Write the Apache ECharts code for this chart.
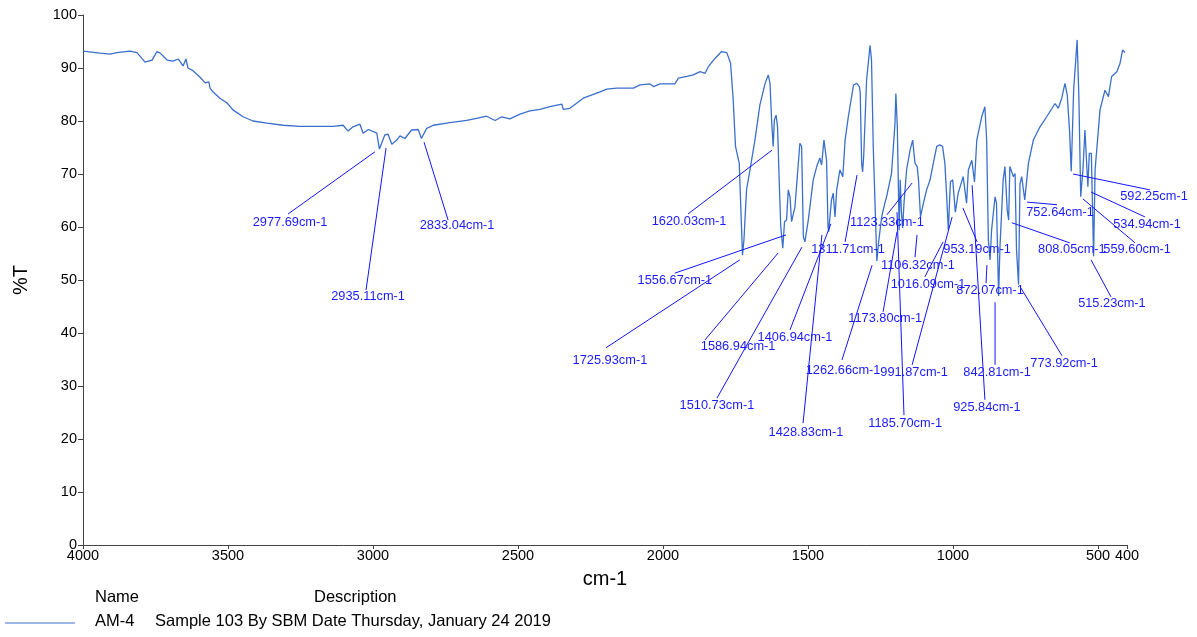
<!DOCTYPE html>
<html>
<head>
<meta charset="utf-8">
<script src="https://cdn.jsdelivr.net/npm/echarts@6/dist/echarts.min.js"></script>
<style>
html,body{margin:0;padding:0;background:#fff;}
#chart{width:1197px;height:637px;}
</style>
</head>
<body>
<div id="chart"></div>
<script>
// Spectrum: wavenumber (cm-1) and transmittance (%T)
var wavenumbers = [4000,3941,3907,3883,3838,3814,3786,3762,3745,3734,3710,3690,3672,3655,3645,3638,3621,3597,3579,3566,3562,3552,3528,3503,3483,3448,3414,3366,3310,3252,3138,3103,3086,3069,3045,3034,3016,2987,2977.69,2959,2948,2935.11,2918,2907,2890,2867,2844,2833.04,2815,2792,2735,2677,2643,2608,2579,2556,2528,2493,2459,2424,2390,2349,2344,2321,2275,2217,2194,2160,2102,2079,2045,2033,2010,1959,1947,1918,1896,1872,1855,1844,1821,1798,1780,1775,1767,1758,1750,1744,1737,1725.93,1721,1712,1700,1683,1666,1648,1637,1631,1625,1620.03,1616,1610,1605,1599,1594,1586.94,1581,1574,1568,1562,1556.67,1545,1528,1522,1516,1510.73,1499,1482,1470,1459,1453,1445,1436,1431,1428.83,1419,1413,1406.94,1401,1390,1380,1372,1361,1343,1332,1323,1320,1315,1311.71,1308,1298,1286,1281,1275,1262.66,1257,1246,1235,1229,1212,1200,1197,1192,1185.70,1182,1178,1173.80,1169,1160,1148,1139,1131,1123.33,1119,1112,1106.32,1102,1091,1079,1068,1056,1045,1036,1028,1022,1016.09,1009,1001,991.87,982,965,953.19,947,935,925.84,918,901,890,884,878,872.07,867,855,850,842.81,838,827,821,813,808.05,804,792,786,781,773.92,769,763,752.64,740,723,700,677,648,637,625,614,606,598,592.25,584,572,566,559.60,552,545,534.94,530,523,515.23,510,493,476,464,453,435,424,415,407];
var transmittance = [93.2,92.8,92.6,92.9,93.2,92.9,91.1,91.5,93.1,92.8,91.5,91.3,91.7,90.4,91.7,90.0,89.5,88.3,87.2,87.4,86.2,85.5,84.3,83.4,82.1,80.8,80.0,79.6,79.2,79.0,79.0,79.2,78.1,78.9,79.4,77.7,78.4,77.7,74.7,77.4,77.5,75.6,76.4,77.2,76.7,78.3,78.4,76.7,78.6,79.2,79.7,80.1,80.5,80.9,80.1,80.8,80.4,81.3,81.9,82.2,82.7,83.2,82.2,82.4,84.3,85.5,86.0,86.2,86.2,86.8,87.0,86.5,87.0,87.0,88.1,88.4,88.7,89.3,89.0,90.2,91.8,93.1,92.9,92.6,90.9,84.0,75.2,75.0,72.0,54.7,57.5,67.0,70.8,76.4,83.0,87.1,88.7,87.1,79.6,75.2,80.2,81.1,78.9,68.2,60.1,56.0,61.0,61.3,67.0,65.7,61.0,63.8,75.8,75.2,58.2,57.2,61.3,68.9,71.4,73.0,71.7,76.4,72.6,60.1,59.1,65.1,66.4,61.9,67.0,70.8,69.5,76.4,80.8,86.8,87.1,86.5,85.5,72.0,70.4,73.3,87.7,94.3,91.5,75.2,53.6,56.9,61.9,64.5,65.7,70.1,79.6,85.2,78.9,59.4,68.9,63.0,59.8,64.5,70.8,74.5,76.4,72.0,71.4,68.9,61.9,61.7,64.5,67.0,68.9,72.0,75.2,75.5,75.2,72.0,66.0,59.4,68.5,68.9,62.8,66.4,69.5,64.5,70.8,72.6,68.5,76.4,80.8,82.7,76.4,57.5,53.8,59.4,65.7,64.5,47.0,56.3,68.9,71.4,63.2,61.3,71.4,69.5,70.1,55.7,49.1,68.2,69.5,65.1,72.0,76.4,78.9,80.8,83.3,82.4,84.3,87.1,84.9,78.0,70.5,85.8,95.3,84.6,65.7,70.8,78.3,67.6,73.9,73.9,54.5,70.8,82.1,85.8,84.6,88.4,89.3,90.9,93.4,92.9];

// Tick labels
var xTicks = [4000,3500,3000,2500,2000,1500,1000,500,400];

// Peak annotations: text, line start [wn,%T], line end [wn,%T], label centre [wn,%T]
var peakLabels = ['2977.69cm-1','2935.11cm-1','2833.04cm-1','1620.03cm-1','1556.67cm-1','1725.93cm-1','1586.94cm-1','1510.73cm-1','1406.94cm-1','1428.83cm-1','1311.71cm-1','1262.66cm-1','1173.80cm-1','1123.33cm-1','1185.70cm-1','1106.32cm-1','1016.09cm-1','991.87cm-1','953.19cm-1','925.84cm-1','872.07cm-1','842.81cm-1','773.92cm-1','808.05cm-1','752.64cm-1','592.25cm-1','534.94cm-1','559.60cm-1','515.23cm-1'];
var peakStart = [[2993,74.2],[2955,74.9],[2824,76.0],[1624,74.5],[1576,58.5],[1735,53.8],[1603,55.1],[1521,56.2],[1421,60.6],[1452,58.5],[1331,69.8],[1279,52.8],[1193,59.1],[1141,68.3],[1193,62.8],[1124,58.5],[1034,57.2],[1003,61.9],[966,63.6],[934,67.9],[883,52.8],[855,45.8],[766,48.5],[797,60.8],[745,64.7],[586,70.0],[524,66.6],[552,65.3],[524,53.8]];
var peakEnd = [[3293,62.45],[3024,48.1],[2741,61.3],[1914,62.45],[1959,51.3],[2197,37.2],[1855,38.7],[1814,27.7],[1562,40.6],[1517,23.0],[1372,57.2],[1383,34.9],[1241,44.0],[1228,62.3],[1169,24.5],[1131,54.3],[1097,50.6],[1141,34.0],[917,57.2],[890,27.4],[886,49.4],[855,34.0],[624,35.7],[597,57.0],[641,64.2],[321,67.0],[338,61.9],[372,57.0],[455,46.8]];
var peakText = [[3286,60.9],[3017,46.8],[2710,60.2],[1910,61.1],[1959,50.0],[2183,34.9],[1741,37.4],[1814,26.4],[1545,39.2],[1507,21.3],[1362,55.8],[1379,33.0],[1234,42.8],[1228,60.9],[1165,23.0],[1121,52.8],[1086,49.1],[1134,32.5],[917,55.7],[883,26.0],[872,48.1],[848,32.6],[617,34.2],[590,55.8],[631,62.8],[307,65.7],[331,60.4],[365,55.7],[452,45.5]];

var seriesName = 'AM-4';
var seriesDesc = 'Sample 103 By SBM Date Thursday, January 24 2019';

var spectrum = wavenumbers.map(function(w, i){ return [w, transmittance[i]]; });
var annot = peakLabels.map(function(t, i){
  return [peakStart[i][0], peakStart[i][1], peakEnd[i][0], peakEnd[i][1], peakText[i][0], peakText[i][1]];
});

var FONT = '"Liberation Sans", Arial, sans-serif';
var chart = echarts.init(document.getElementById('chart'), null, {renderer:'canvas'});
chart.setOption({
  animation: false,
  backgroundColor: '#ffffff',
  grid: {left: 83, right: 70, top: 15, bottom: 92},
  xAxis: {
    type: 'value', inverse: true, min: 400, max: 4000,
    name: 'cm-1', nameLocation: 'middle', nameGap: 24,
    nameTextStyle: {fontFamily: FONT, fontSize: 20, color: '#000'},
    axisLine: {show: true, lineStyle: {color: '#444', width: 1}},
    axisTick: {show: true, length: 4, customValues: xTicks, lineStyle: {color: '#444'}},
    axisLabel: {customValues: xTicks, fontFamily: FONT, fontSize: 14.5, color: '#000', margin: 3,
      formatter: function(v){ return String(v); }},
    splitLine: {show: false}
  },
  yAxis: {
    type: 'value', min: 0, max: 100, interval: 10,
    name: '%T', nameLocation: 'middle', nameGap: 52,
    nameTextStyle: {fontFamily: FONT, fontSize: 20, color: '#000'},
    axisLine: {show: true, lineStyle: {color: '#444', width: 1}},
    axisTick: {show: true, length: 5, lineStyle: {color: '#444'}},
    axisLabel: {fontFamily: FONT, fontSize: 14.5, color: '#000', margin: 6},
    splitLine: {show: false}
  },
  series: [
    {
      type: 'line', name: seriesName, data: spectrum, showSymbol: false, symbol: 'none',
      lineStyle: {color: '#3a6fcc', width: 1.3}, z: 3
    },
    {
      type: 'custom', data: annot, clip: false, z: 4,
      renderItem: function(params, api){
        var s = api.coord([api.value(0), api.value(1)]);
        var e = api.coord([api.value(2), api.value(3)]);
        var l = api.coord([api.value(4), api.value(5)]);
        return {type: 'group', children: [
          {type: 'line', shape: {x1: s[0], y1: s[1], x2: e[0], y2: e[1]}, style: {stroke: '#1414ff', lineWidth: 1}},
          {type: 'text', x: l[0], y: l[1], style: {text: peakLabels[params.dataIndex], fill: '#1a1aff', font: '12.8px ' + FONT, align: 'center', verticalAlign: 'middle'}}
        ]};
      }
    }
  ],
  graphic: [
    {type: 'text', left: 95, top: 589, style: {text: 'Name', font: '16.5px ' + FONT, fill: '#000'}},
    {type: 'text', left: 314, top: 589, style: {text: 'Description', font: '16.5px ' + FONT, fill: '#000'}},
    {type: 'line', shape: {x1: 5, y1: 623, x2: 75, y2: 623}, style: {stroke: '#3a6fcc', lineWidth: 1.2}},
    {type: 'text', left: 95, top: 613, style: {text: seriesName, font: '16.5px ' + FONT, fill: '#000'}},
    {type: 'text', left: 155, top: 613, style: {text: seriesDesc, font: '16.5px ' + FONT, fill: '#000'}}
  ]
});
</script>
</body>
</html>
